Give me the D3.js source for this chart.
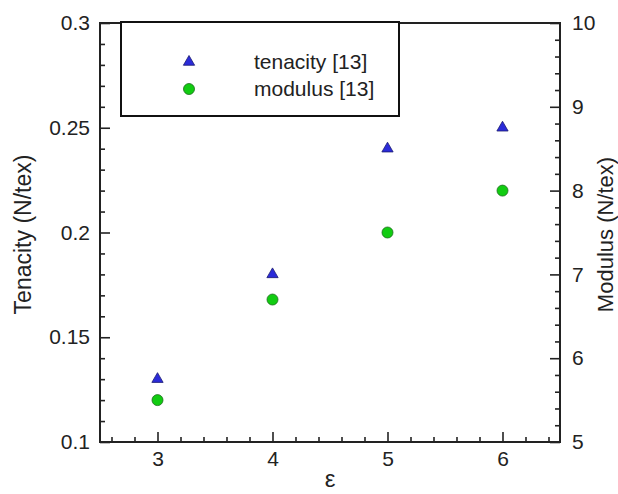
<!DOCTYPE html>
<html>
<head>
<meta charset="utf-8">
<script src="https://cdn.jsdelivr.net/npm/d3@7"></script>
<style>
  body { margin: 0; background: #fff; }
  svg { display: block; font-family: 'Liberation Sans', Arial, sans-serif; }
</style>
</head>
<body>
<svg id="chart" width="618" height="494"></svg>
<script>
const epsilon = [3, 4, 5, 6]
const tenacity = [0.13, 0.18, 0.24, 0.25]
const modulus = [5.5, 6.7, 7.5, 8.0]
const xTicks = [3, 4, 5, 6]
const yLeftTicks = [0.1, 0.15, 0.2, 0.25, 0.3]
const yRightTicks = [5, 6, 7, 8, 9, 10]
const legendLabels = ['tenacity [13]', 'modulus [13]']

const color = {
  frame: '#222',
  text: '#222',
  triFill: '#2b2bd9',
  triStroke: '#1a1a70',
  dotFill: '#11cc11',
  dotStroke: '#1d6b1d'
}

const margin = { top: 23, right: 58, bottom: 52, left: 100 }
const W = 618, H = 494
const width = W - margin.left - margin.right
const height = H - margin.top - margin.bottom

const svg = d3.select('#chart')
const g = svg.append('g').attr('transform', `translate(${margin.left},${margin.top})`)

const x = d3.scaleLinear().domain([2.5, 6.5]).range([0, width])
const yL = d3.scaleLinear().domain([0.1, 0.3]).range([height, 0])
const yR = d3.scaleLinear().domain([5, 10]).range([height, 0])

const fmtL = d => String(+d.toFixed(2))

// minor ticks
const xMinor = d3.range(2.6, 6.5, 0.2).filter(v => Math.abs(v - Math.round(v)) > 1e-6)
const yLMinor = d3.range(0.11, 0.3, 0.01).filter(v => Math.abs(v * 20 - Math.round(v * 20)) > 1e-6)
const yRMinor = d3.range(5.2, 10, 0.2).filter(v => Math.abs(v - Math.round(v)) > 1e-6)

function styleAxis(sel, size) {
  sel.select('.domain').remove()
  sel.selectAll('.tick line').attr('stroke', color.frame).attr('stroke-width', 1.6)
  sel.selectAll('text').attr('fill', color.text).style('font-size', size + 'px')
}

g.append('g').attr('transform', `translate(0,${height})`)
  .call(d3.axisBottom(x).tickValues(xMinor).tickSize(-5).tickFormat(''))
  .call(s => styleAxis(s, 21))
g.append('g').attr('transform', `translate(0,${height})`)
  .call(d3.axisBottom(x).tickValues(xTicks).tickSize(-10).tickPadding(9).tickFormat(d3.format('d')))
  .call(s => styleAxis(s, 21))

g.append('g')
  .call(d3.axisLeft(yL).tickValues(yLMinor).tickSize(-5).tickFormat(''))
  .call(s => styleAxis(s, 21))
g.append('g')
  .call(d3.axisLeft(yL).tickValues(yLeftTicks).tickSize(-10).tickPadding(10).tickFormat(fmtL))
  .call(s => styleAxis(s, 21))

g.append('g').attr('transform', `translate(${width},0)`)
  .call(d3.axisRight(yR).tickValues(yRMinor).tickSize(-5).tickFormat(''))
  .call(s => styleAxis(s, 21))
g.append('g').attr('transform', `translate(${width},0)`)
  .call(d3.axisRight(yR).tickValues(yRightTicks).tickSize(-10).tickPadding(12).tickFormat(d3.format('d')))
  .call(s => styleAxis(s, 21))

// frame
g.append('rect')
  .attr('width', width).attr('height', height)
  .attr('fill', 'none').attr('stroke', color.frame).attr('stroke-width', 2)

// axis titles
svg.append('text')
  .attr('transform', `translate(31,${margin.top + height / 2 + 2}) rotate(-90)`)
  .attr('text-anchor', 'middle')
  .attr('fill', color.text)
  .style('font-size', '23px')
  .text('Tenacity (N/tex)')

svg.append('text')
  .attr('transform', `translate(613,${margin.top + height / 2 + 2}) rotate(-90)`)
  .attr('text-anchor', 'middle')
  .attr('fill', color.text)
  .style('font-size', '22px')
  .text('Modulus (N/tex)')

svg.append('text')
  .attr('x', margin.left + width / 2)
  .attr('y', 487)
  .attr('text-anchor', 'middle')
  .attr('fill', color.text)
  .style('font-size', '24px')
  .text('ε')

// data
const tri = d3.symbol().type(d3.symbolTriangle).size(55)
const points = epsilon.map((e, i) => ({ e, t: tenacity[i], m: modulus[i] }))

g.selectAll('.tri')
  .data(points)
  .enter()
  .append('path')
  .attr('class', 'tri')
  .attr('d', tri)
  .attr('transform', d => `translate(${x(d.e)},${yL(d.t)})`)
  .attr('fill', color.triFill)
  .attr('stroke', color.triStroke)
  .attr('stroke-width', 0.8)

g.selectAll('.dot')
  .data(points)
  .enter()
  .append('circle')
  .attr('class', 'dot')
  .attr('cx', d => x(d.e))
  .attr('cy', d => yR(d.m))
  .attr('r', 5.5)
  .attr('fill', color.dotFill)
  .attr('stroke', color.dotStroke)
  .attr('stroke-width', 0.8)

// legend
const lg = svg.append('g')
lg.append('rect')
  .attr('x', 121).attr('y', 22).attr('width', 278).attr('height', 94)
  .attr('fill', '#fff').attr('stroke', '#111').attr('stroke-width', 2)

lg.append('path')
  .attr('d', tri)
  .attr('transform', 'translate(189,62)')
  .attr('fill', color.triFill)
  .attr('stroke', color.triStroke)
  .attr('stroke-width', 0.8)
lg.append('circle')
  .attr('cx', 189).attr('cy', 89).attr('r', 5.5)
  .attr('fill', color.dotFill)
  .attr('stroke', color.dotStroke)
  .attr('stroke-width', 0.8)

lg.selectAll('.legendText')
  .data(legendLabels)
  .enter()
  .append('text')
  .attr('class', 'legendText')
  .attr('x', 254)
  .attr('y', (d, i) => 62 + i * 27)
  .attr('dy', '0.35em')
  .attr('fill', color.text)
  .style('font-size', '21px')
  .text(d => d)
</script>
</body>
</html>
